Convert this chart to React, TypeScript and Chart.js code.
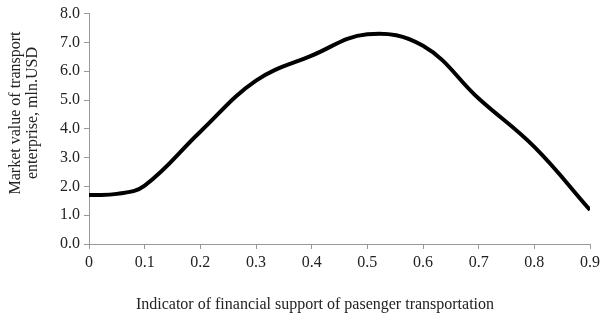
import React, { useEffect, useRef } from "react";
import { Chart, registerables } from "chart.js";

Chart.register(...registerables);

const xValues = [0, 0.05, 0.1, 0.2, 0.3, 0.4, 0.5, 0.6, 0.7, 0.8, 0.9];
const yValues = [1.7, 1.74, 2.03, 3.9, 5.67, 6.54, 7.28, 6.88, 5.05, 3.37, 1.18];
const xTitle = "Indicator of financial support of pasenger transportation";
const yTitle = ["Market value of transport", "enterprise, mln.USD"];

const FAMILY = "'Liberation Serif', 'Times New Roman', serif";

const titlesPlugin = {
  id: "customTitles",
  afterDraw(chart: any) {
    const ctx = chart.ctx as CanvasRenderingContext2D;
    ctx.save();
    ctx.fillStyle = "#222";
    ctx.font = `16px ${FAMILY}`;
    ctx.textAlign = "center";
    ctx.textBaseline = "middle";
    ctx.fillText(xTitle, 315, 305);
    ctx.translate(0, 113);
    ctx.rotate(-Math.PI / 2);
    ctx.fillText(yTitle[0], 0, 16);
    ctx.fillText(yTitle[1], 0, 33);
    ctx.restore();
  },
};

export default function App() {
  const ref = useRef<HTMLCanvasElement>(null);
  useEffect(() => {
    document.body.style.margin = "0";
    const font = { family: FAMILY, size: 16 };
    const chart = new Chart(ref.current!, {
      type: "line",
      data: {
        datasets: [
          {
            data: xValues.map((x, i) => ({ x, y: yValues[i] })),
            borderColor: "#000",
            borderWidth: 4,
            pointRadius: 0,
            tension: 0.4,
            fill: false,
          },
        ],
      },
      plugins: [titlesPlugin],
      options: {
        animation: false,
        responsive: false,
        maintainAspectRatio: false,
        layout: { padding: { top: 13, right: 10, left: 0, bottom: 0 } },
        plugins: { legend: { display: false }, tooltip: { enabled: false } },
        scales: {
          x: {
            type: "linear",
            min: 0,
            max: 0.9,
            afterFit: (s: any) => {
              s.height = 72;
            },
            ticks: {
              stepSize: 0.1,
              color: "#222",
              font,
              padding: 4,
              maxRotation: 0,
              callback: (v: any) => (v === 0 ? "0" : Number(v).toFixed(1)),
            },
            grid: { drawOnChartArea: false, drawTicks: true, tickLength: 5, color: "#999" },
            border: { color: "#999", width: 1 },
          },
          y: {
            min: 0,
            max: 8,
            afterFit: (s: any) => {
              s.width = 89;
            },
            ticks: {
              stepSize: 1,
              color: "#222",
              font,
              padding: 4,
              callback: (v: any) => Number(v).toFixed(1),
            },
            grid: { drawOnChartArea: false, drawTicks: true, tickLength: 5, color: "#999" },
            border: { color: "#999", width: 1 },
          },
        },
      },
    } as any);
    return () => chart.destroy();
  }, []);
  return (
    <div style={{ width: 604, height: 316 }}>
      <canvas ref={ref} width={604} height={316} style={{ display: "block" }} />
    </div>
  );
}
